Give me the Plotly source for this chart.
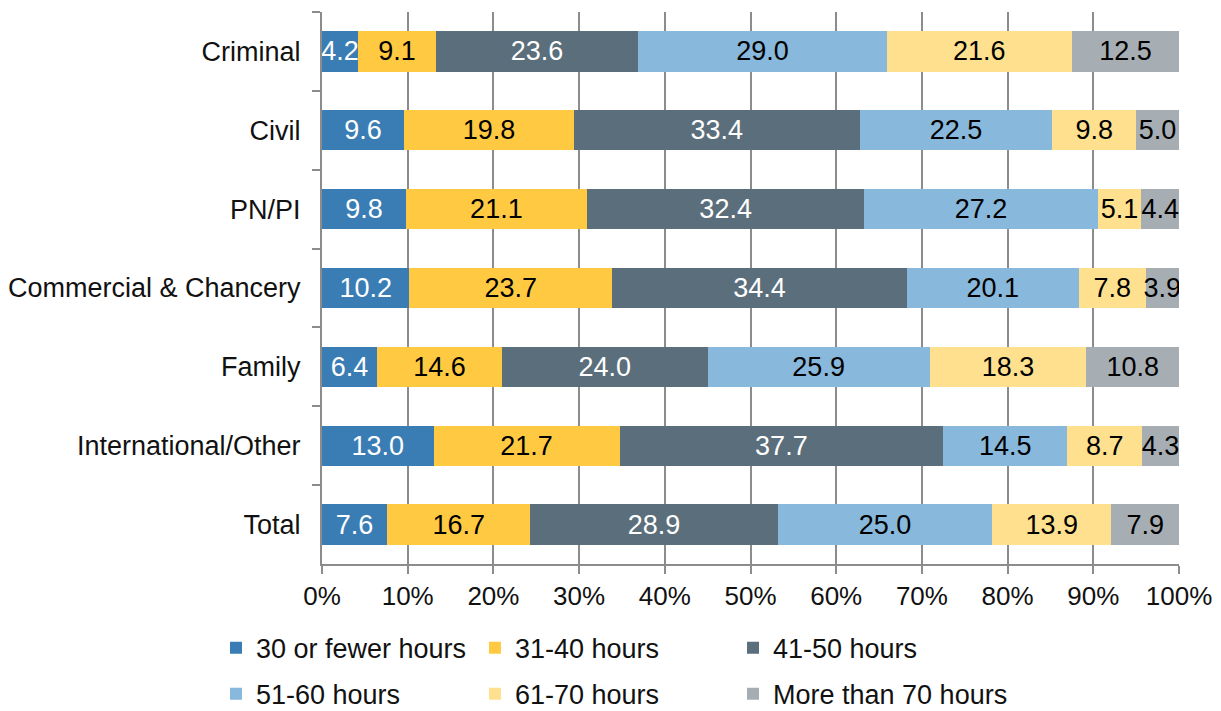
import plotly.graph_objects as go

# categories, top to bottom
areas = ["Criminal", "Civil", "PN/PI", "Commercial & Chancery", "Family",
         "International/Other", "Total"]

# share of respondents (%) by hours worked per week
h30_or_fewer = [4.2, 9.6, 9.8, 10.2, 6.4, 13.0, 7.6]
h31_40 = [9.1, 19.8, 21.1, 23.7, 14.6, 21.7, 16.7]
h41_50 = [23.6, 33.4, 32.4, 34.4, 24.0, 37.7, 28.9]
h51_60 = [29.0, 22.5, 27.2, 20.1, 25.9, 14.5, 25.0]
h61_70 = [21.6, 9.8, 5.1, 7.8, 18.3, 8.7, 13.9]
h70_plus = [12.5, 5.0, 4.4, 3.9, 10.8, 4.3, 7.9]

series = [
    ("30 or fewer hours", h30_or_fewer, "#3A7DB4", "white", "legend"),
    ("31-40 hours", h31_40, "#FFCA42", "black", "legend2"),
    ("41-50 hours", h41_50, "#5B6E7B", "white", "legend3"),
    ("51-60 hours", h51_60, "#88B8DC", "black", "legend"),
    ("61-70 hours", h61_70, "#FFE08F", "black", "legend2"),
    ("More than 70 hours", h70_plus, "#A6AEB4", "black", "legend3"),
]

FONT = "Liberation Sans, Arial, sans-serif"
GRID = "#8C8C8C"

fig = go.Figure()
for name, vals, color, tcolor, leg in series:
    fig.add_trace(go.Bar(
        y=areas, x=vals, name=name, orientation="h",
        marker=dict(color=color, line=dict(width=0)),
        text=[f"{v:.1f}" for v in vals],
        textposition="inside", insidetextanchor="middle", textangle=0,
        textfont=dict(family=FONT, size=27, color=tcolor),
        legend=leg, legendgroup=name, hoverinfo="skip",
    ))

legend_common = dict(orientation="v", xanchor="left", yanchor="top",
                     tracegroupgap=8, bgcolor="rgba(0,0,0,0)",
                     traceorder="grouped",
                     font=dict(family=FONT, size=27, color="#111"))

# page body has an 8px margin, so the figure is 8px smaller than the window
fig.update_layout(
    width=1213, height=703,
    barmode="stack", barnorm="percent", bargap=0.49,
    plot_bgcolor="white", paper_bgcolor="white",
    margin=dict(l=314, r=42, t=4, b=147, autoexpand=False),
    font=dict(family=FONT, size=27, color="#111"),
    uniformtext=dict(minsize=27, mode="show"),
    legend=dict(x=-0.1237, y=-0.108, **legend_common),
    legend2=dict(x=0.1785, y=-0.108, **legend_common),
    legend3=dict(x=0.4796, y=-0.108, **legend_common),
)

fig.update_xaxes(
    range=[0, 100], dtick=10, ticksuffix="%", automargin=False,
    showgrid=True, gridcolor=GRID, gridwidth=2,
    showline=True, linecolor=GRID, linewidth=2,
    ticks="outside", ticklen=8, tickwidth=2, tickcolor=GRID,
    tickfont=dict(family=FONT, size=26, color="#111"),
    zeroline=False,
)
fig.update_yaxes(
    categoryorder="array", categoryarray=areas, autorange="reversed",
    automargin=False,
    showgrid=False, showline=True, linecolor=GRID, linewidth=2,
    ticks="outside", ticklen=8, tickwidth=2, tickcolor=GRID,
    tickson="boundaries", ticklabelstandoff=14,
    tickfont=dict(family=FONT, size=27, color="#111"),
)

fig.write_html("out.html")
